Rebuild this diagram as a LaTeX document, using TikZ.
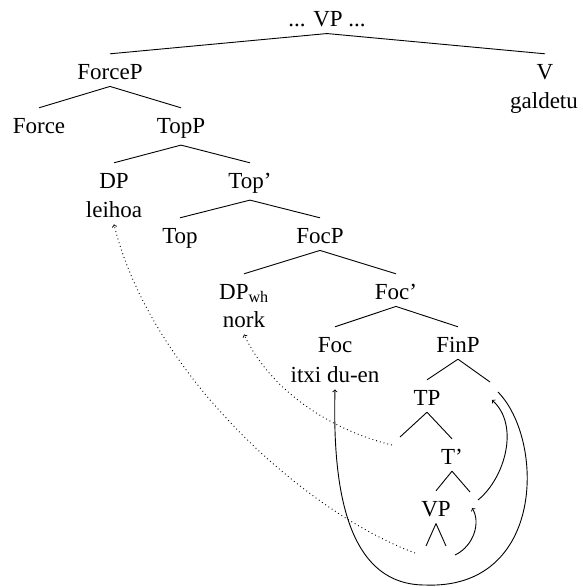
\documentclass[tikz,border=0pt]{standalone}
\usepackage{fontspec}
\setmainfont{Liberation Serif}
\begin{document}
\begin{tikzpicture}[x=1pt,y=-1pt,
  lbl/.style={anchor=base, font=\fontsize{23}{29}\selectfont, text height=18pt, inner ysep=7pt, inner xsep=0pt},
  word/.style={anchor=base, font=\fontsize{23}{29}\selectfont, inner ysep=7pt, inner xsep=0pt},
  branch/.style={line width=0.9pt},
  mv/.style={line width=0.9pt, ->},
  trace/.style={line width=0.9pt, dash pattern=on 0.9pt off 3pt, ->}]
\useasboundingbox (0,0) rectangle (582,587);
% nodes
\node[lbl] (root) at (327,26) {... VP ...};
\node[lbl] (forcep) at (110,79) {ForceP};
\node[lbl] (v) at (545,79) {V};
\node[word] (galdetu) at (544,108) {galdetu};
\node[lbl] (force) at (39,133) {Force};
\node[lbl] (topp) at (181,133) {TopP};
\node[lbl] (dp) at (114,188) {DP};
\node[word] (leihoa) at (114,217) {leihoa};
\node[lbl] (topbar) at (250,188) {Top'};
\node[lbl] (top) at (180,243) {Top};
\node[lbl] (focp) at (320,243) {FocP};
\node[lbl] (dpwh) at (244,299) {DP\textsubscript{wh}};
\node[word] (nork) at (244,327) {nork};
\node[lbl] (focbar) at (396,299) {Foc'};
\node[lbl] (foc) at (335,352) {Foc};
\node[word] (itxi) at (335,382) {itxi du-en};
\node[lbl] (finp) at (458,352) {FinP};
\node[lbl] (tp) at (427,405) {TP};
\node[lbl] (tbar) at (452,464) {T'};
\node[lbl] (vp) at (436,516) {VP};
% empty positions
\coordinate (finR) at (490,382);
\coordinate (tpL) at (400,437);
\coordinate (tR) at (470,492);
\coordinate (vpL) at (426,546);
\coordinate (vpR) at (446,546);
% arrow ends
\coordinate (a1s) at (455,555);
\coordinate (a1e) at (472,508);
\coordinate (a2s) at (478,500);
\coordinate (a2e) at (492,400);
\coordinate (a3s) at (498,392);
\coordinate (a3m) at (425,585);
\coordinate (t1s) at (392,445);
\coordinate (t2s) at (415,553);
% branches
\draw[branch] (root.south) -- (forcep.north);
\draw[branch] (root.south) -- (v.north);
\draw[branch] (forcep.south) -- (force.north);
\draw[branch] (forcep.south) -- (topp.north);
\draw[branch] (topp.south) -- (dp.north);
\draw[branch] (topp.south) -- (topbar.north);
\draw[branch] (topbar.south) -- (top.north);
\draw[branch] (topbar.south) -- (focp.north);
\draw[branch] (focp.south) -- (dpwh.north);
\draw[branch] (focp.south) -- (focbar.north);
\draw[branch] (focbar.south) -- (foc.north);
\draw[branch] (focbar.south) -- (finp.north);
\draw[branch] (finp.south) -- (tp.north);
\draw[branch] (finp.south) -- (finR);
\draw[branch] (tp.south) -- (tpL);
\draw[branch] (tp.south) -- (tbar.north);
\draw[branch] (tbar.south) -- (vp.north);
\draw[branch] (tbar.south) -- (tR);
\draw[branch] (vp.south) -- (vpL);
\draw[branch] (vp.south) -- (vpR);
% movement arrows
\draw[mv] (a1s) .. controls (474,546) and (481,522) .. (a1e);
\draw[mv] (a2s) .. controls (505,478) and (520,425) .. (a2e);
\draw[mv] (a3s) .. controls (545,440) and (545,590) .. (a3m) .. controls (340,585) and (333,470) .. (itxi.south);
% traces
\draw[trace] (t1s) .. controls (330,430) and (270,390) .. (nork.south);
\draw[trace] (t2s) .. controls (300,510) and (150,370) .. (leihoa.south);
\end{tikzpicture}
\end{document}
